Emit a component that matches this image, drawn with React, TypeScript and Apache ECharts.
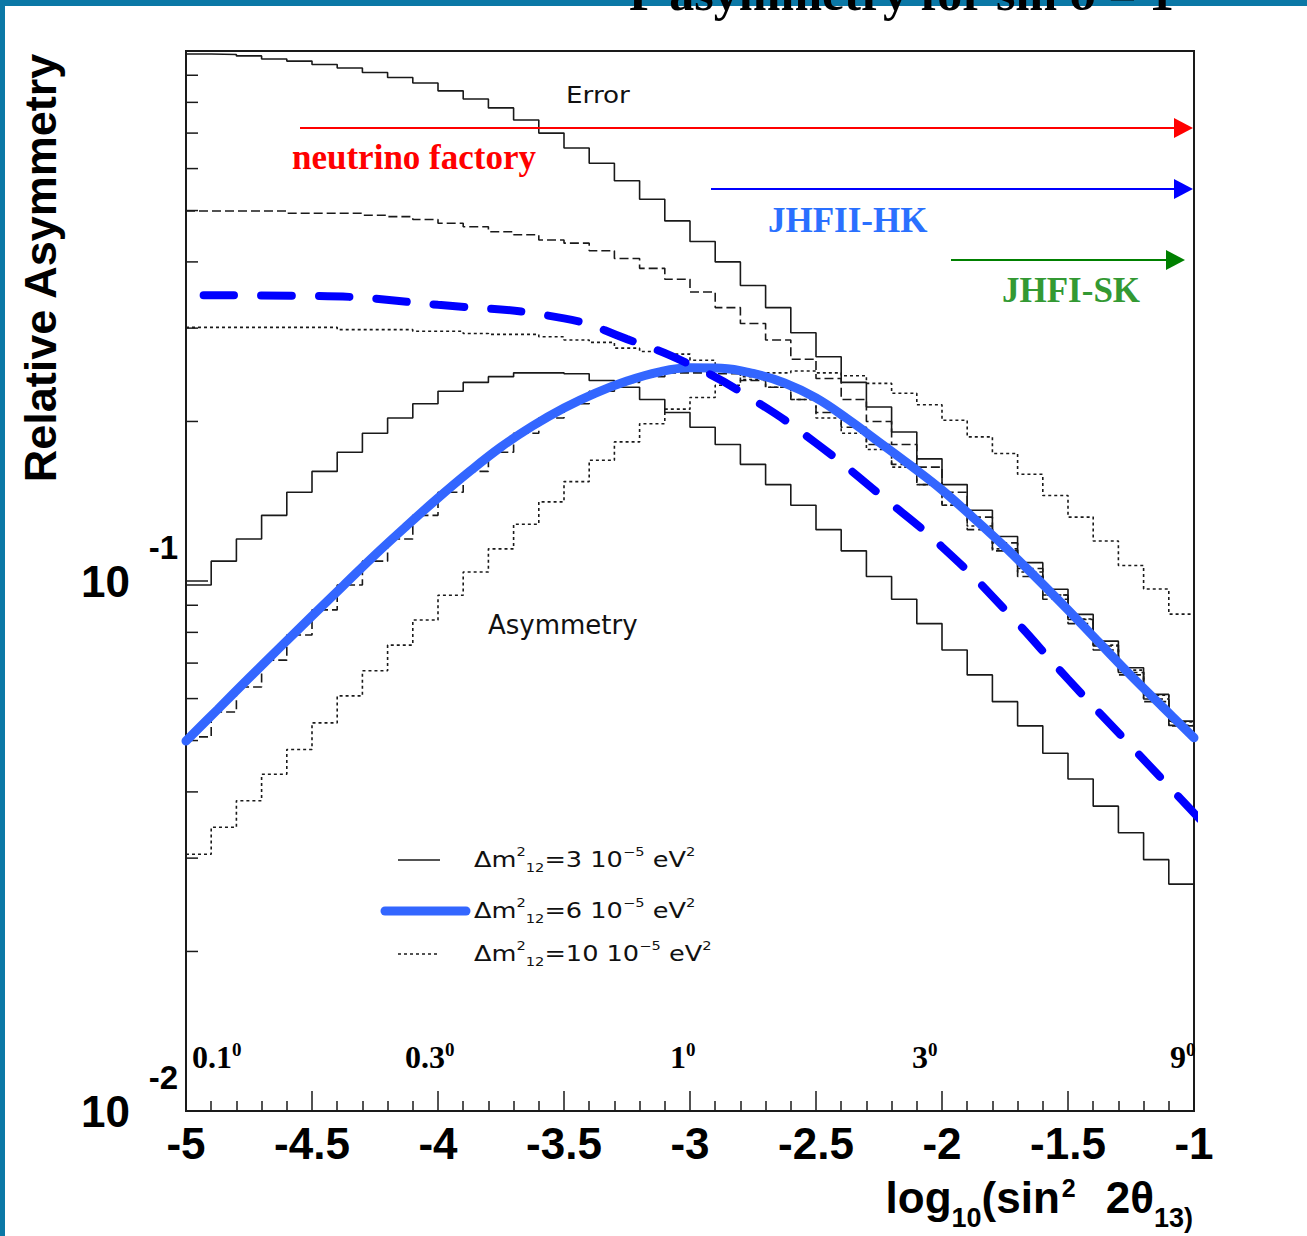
import React, { useEffect, useRef } from 'react';
import * as echarts from 'echarts';

// ---- bins of log10(sin^2 2theta13): lower edges, width 0.1 ----
const binLow = [-5.0, -4.9, -4.8, -4.7, -4.6, -4.5, -4.4, -4.3, -4.2, -4.1, -4.0, -3.9, -3.8, -3.7, -3.6, -3.5, -3.4, -3.3, -3.2, -3.1, -3.0, -2.9, -2.8, -2.7, -2.6, -2.5, -2.4, -2.3, -2.2, -2.1, -2.0, -1.9, -1.8, -1.7, -1.6, -1.5, -1.4, -1.3, -1.2, -1.1];
const binEnd = -1.0;

// ---- "Error" histograms ----
const errDm3 = [0.987, 0.985, 0.979, 0.966, 0.957, 0.943, 0.929, 0.911, 0.891, 0.870, 0.841, 0.812, 0.781, 0.741, 0.700, 0.656, 0.614, 0.569, 0.525, 0.478, 0.437, 0.400, 0.361, 0.328, 0.294, 0.265, 0.237, 0.213, 0.191, 0.170, 0.152, 0.136, 0.1213, 0.1083, 0.0965, 0.0865, 0.0770, 0.0686, 0.0611, 0.0544];
const errDm6 = [0.499, 0.499, 0.499, 0.499, 0.494, 0.494, 0.494, 0.490, 0.487, 0.481, 0.473, 0.466, 0.456, 0.450, 0.440, 0.434, 0.420, 0.406, 0.389, 0.371, 0.351, 0.328, 0.306, 0.285, 0.262, 0.241, 0.220, 0.200, 0.181, 0.164, 0.147, 0.132, 0.118, 0.1056, 0.0941, 0.0846, 0.0754, 0.0672, 0.0599, 0.0534];
const errDm10 = [0.301, 0.301, 0.301, 0.301, 0.301, 0.301, 0.298, 0.298, 0.298, 0.296, 0.296, 0.293, 0.292, 0.292, 0.289, 0.285, 0.282, 0.275, 0.271, 0.268, 0.261, 0.252, 0.243, 0.232, 0.220, 0.203, 0.190, 0.177, 0.164, 0.152, 0.139, 0.127, 0.115, 0.104, 0.0941, 0.0848, 0.0757, 0.0679, 0.0609, 0.0542];

// ---- "Asymmetry" histograms ----
const asymDm3 = [0.0983, 0.109, 0.120, 0.133, 0.147, 0.161, 0.175, 0.190, 0.203, 0.216, 0.228, 0.237, 0.243, 0.247, 0.247, 0.246, 0.239, 0.232, 0.220, 0.208, 0.195, 0.181, 0.166, 0.152, 0.139, 0.125, 0.114, 0.102, 0.0924, 0.0831, 0.0741, 0.0665, 0.0592, 0.0533, 0.0473, 0.0423, 0.0376, 0.0335, 0.0298, 0.0268];
const asymDm6 = [0.0508, 0.0566, 0.0631, 0.0709, 0.0791, 0.0882, 0.0983, 0.109, 0.120, 0.133, 0.147, 0.161, 0.175, 0.190, 0.203, 0.216, 0.228, 0.237, 0.243, 0.247, 0.247, 0.246, 0.239, 0.232, 0.220, 0.208, 0.195, 0.181, 0.166, 0.152, 0.139, 0.125, 0.114, 0.102, 0.0924, 0.0831, 0.0741, 0.0665, 0.0592, 0.0533];
const asymDm10 = [0.0305, 0.0343, 0.0385, 0.0432, 0.0481, 0.0540, 0.0607, 0.0677, 0.0757, 0.0844, 0.0940, 0.104, 0.115, 0.128, 0.141, 0.154, 0.169, 0.183, 0.198, 0.211, 0.222, 0.234, 0.240, 0.247, 0.249, 0.247, 0.244, 0.236, 0.226, 0.215, 0.201, 0.187, 0.174, 0.159, 0.145, 0.132, 0.119, 0.107, 0.0966, 0.0866];

// ---- thick blue smooth curve (Δm²=6) ----
const fitX = [-5.0, -4.875, -4.75, -4.625, -4.5, -4.375, -4.25, -4.125, -4.0, -3.875, -3.75, -3.625, -3.5, -3.375, -3.25, -3.125, -3.0, -2.875, -2.75, -2.625, -2.5, -2.375, -2.25, -2.125, -2.0, -1.875, -1.75, -1.625, -1.5, -1.375, -1.25, -1.125, -1.0];
const fitAsym6 = [0.0499, 0.0572, 0.0656, 0.0751, 0.0859, 0.0981, 0.1120, 0.1270, 0.1434, 0.1609, 0.1790, 0.1961, 0.2121, 0.2263, 0.2384, 0.2479, 0.2525, 0.2520, 0.2464, 0.2364, 0.2215, 0.2022, 0.1829, 0.1652, 0.1485, 0.1315, 0.1159, 0.1013, 0.0882, 0.0764, 0.0663, 0.0579, 0.0506];

// ---- thick blue dashed curve ----
const dashX = [-4.93, -4.5, -4.0, -3.5, -3.25, -3.0, -2.75, -2.5, -2.25, -2.0, -1.75, -1.5, -1.25, -1.0, -0.94];
const dashVals = [0.346, 0.345, 0.332, 0.313, 0.286, 0.256, 0.220, 0.182, 0.146, 0.116, 0.0883, 0.0653, 0.0488, 0.0365, 0.0340];

// ---- log-axis minor ticks ----
const yMinorTicks = [0.02, 0.03, 0.04, 0.05, 0.06, 0.07, 0.08, 0.09, 0.2, 0.3, 0.4, 0.5, 0.6, 0.7, 0.8, 0.9];

// ---- texts ----
const titleText = 'P asymmetry for sin δ = 1';
const yTitle = 'Relative Asymmetry';
const angleLabels = ['0.1', '0.3', '1', '3', '9'];
const legendMasses = ['3', '6', '10'];

function steps(vals: number[]) {
  const d: number[][] = binLow.map((x, i) => [x, vals[i]]);
  d.push([binEnd, vals[vals.length - 1]]);
  return d;
}

const INK = '#1a1a1a';
const SANS = '"Liberation Sans", Arial, sans-serif';
const THIN = '"DejaVu Sans", sans-serif';
const SERIF = '"Liberation Serif", "Times New Roman", serif';

function histo(vals: number[], type: any) {
  return {
    type: 'line',
    step: 'end',
    data: steps(vals),
    symbol: 'none',
    silent: true,
    z: 2,
    lineStyle: { color: INK, width: 1.6, type },
  };
}

function arrow(x1: number, x2: number, y: number, color: string) {
  return [
    { type: 'line', z: 100, shape: { x1, y1: y, x2: x2 - 14, y2: y }, style: { stroke: color, lineWidth: 2 } },
    { type: 'polygon', z: 100, shape: { points: [[x2, y], [x2 - 19, y - 10], [x2 - 19, y + 10]] }, style: { fill: color } },
  ];
}

const legendRich = {
  n: { fontSize: 21, fontFamily: THIN, lineHeight: 28, fill: '#111' },
  sp: { fontSize: 12, fontFamily: THIN, lineHeight: 12, verticalAlign: 'top', fill: '#111' },
  sb: { fontSize: 12, fontFamily: THIN, lineHeight: 12, verticalAlign: 'bottom', fill: '#111' },
};

export default function App() {
  const ref = useRef<HTMLDivElement>(null);
  useEffect(() => {
    document.body.style.margin = '0';
    if (!ref.current) return;
    const chart = echarts.init(ref.current, undefined, { renderer: 'svg' });

    const angleX = [192, 405, 670, 912, 1170];
    const legendY = [860, 911, 954];

    const graphic: any[] = [
      { type: 'rect', z: 90, shape: { x: 0, y: 0, width: 1307, height: 6 }, style: { fill: '#0b78a6' } },
      { type: 'rect', z: 90, shape: { x: 0, y: 0, width: 5, height: 1236 }, style: { fill: '#0b78a6' } },
      { type: 'text', z: 100, x: 629, y: 18, style: { text: titleText, fontSize: 50, fontWeight: 'bold', fontFamily: SERIF, fill: '#000', align: 'left', verticalAlign: 'bottom' } },
      ...arrow(300, 1193, 128, '#ff0000'),
      ...arrow(711, 1193, 189, '#0000ff'),
      ...arrow(951, 1185, 260, '#008000'),
      { type: 'text', z: 100, x: 292, y: 157, style: { text: 'neutrino factory', fontSize: 35, fontWeight: 'bold', fontFamily: SERIF, fill: '#ff0000', verticalAlign: 'middle' } },
      { type: 'text', z: 100, x: 768, y: 220, style: { text: 'JHFII-HK', fontSize: 35, fontWeight: 'bold', fontFamily: SERIF, fill: '#2a70ff', verticalAlign: 'middle' } },
      { type: 'text', z: 100, x: 1002, y: 290, style: { text: 'JHFI-SK', fontSize: 35, fontWeight: 'bold', fontFamily: SERIF, fill: '#339933', verticalAlign: 'middle' } },
      { type: 'text', z: 100, x: 566, y: 95, scaleX: 1.14, style: { text: 'Error', fontSize: 23, fontFamily: THIN, fill: '#111', verticalAlign: 'middle' } },
      { type: 'text', z: 100, x: 488, y: 625, style: { text: 'Asymmetry', fontSize: 26, fontFamily: THIN, fill: '#111', verticalAlign: 'middle' } },
      // legend
      { type: 'line', z: 100, shape: { x1: 398, y1: legendY[0], x2: 440, y2: legendY[0] }, style: { stroke: INK, lineWidth: 1.6 } },
      { type: 'line', z: 100, shape: { x1: 385, y1: legendY[1], x2: 466, y2: legendY[1] }, style: { stroke: '#3366ff', lineWidth: 9, lineCap: 'round' } },
      { type: 'line', z: 100, shape: { x1: 398, y1: legendY[2], x2: 440, y2: legendY[2] }, style: { stroke: INK, lineWidth: 1.6, lineDash: [3, 3] } },
      ...legendMasses.map((m, i) => ({
        type: 'text', z: 100, x: 474, y: legendY[i], scaleX: 1.22,
        style: { text: `{n|Δm}{sp|2}{sb|12}{n|=${m} 10}{sp|−5}{n| eV}{sp|2}`, rich: legendRich, verticalAlign: 'middle' },
      })),
      // angle labels
      ...angleLabels.map((a, i) => ({
        type: 'text', z: 100, x: angleX[i], y: 1057,
        style: {
          text: `{a|${a}}{s|0}`, verticalAlign: 'middle',
          rich: {
            a: { fontSize: 32, fontWeight: 'bold', fontFamily: SERIF, lineHeight: 34, fill: '#000' },
            s: { fontSize: 19, fontWeight: 'bold', fontFamily: SERIF, lineHeight: 19, verticalAlign: 'top', fill: '#000' },
          },
        },
      })),
      // axis titles
      { type: 'text', z: 100, x: 40, y: 268, rotation: Math.PI / 2, style: { text: yTitle, fontSize: 45, fontWeight: 'bold', fontFamily: SANS, fill: '#000', align: 'center', verticalAlign: 'middle' } },
      {
        type: 'text', z: 100, x: 1193, y: 1203.5,
        style: {
          text: '{b|log}{sb|10}{b|(sin}{sp|2}{g|}{b|2θ}{sb|13)}', align: 'right', verticalAlign: 'middle',
          rich: {
            b: { fontSize: 44, fontWeight: 'bold', fontFamily: SANS, lineHeight: 56, verticalAlign: 'top', fill: '#000' },
            sb: { fontSize: 27, fontWeight: 'bold', fontFamily: SANS, lineHeight: 10, verticalAlign: 'bottom', fill: '#000' },
            sp: { fontSize: 25, fontWeight: 'bold', fontFamily: SANS, lineHeight: 10, verticalAlign: 'top', padding: [0, 0, 0, 2], fill: '#000' },
            g: { width: 30, lineHeight: 10 },
          },
        },
      },
    ];

    const expOf = (v: number) => Math.round(Math.log10(v));

    chart.setOption({
      animation: false,
      backgroundColor: '#ffffff',
      grid: { left: 186, top: 51, width: 1008, height: 1060, show: true, borderColor: INK, borderWidth: 2, backgroundColor: 'transparent' },
      xAxis: {
        type: 'value', min: -5, max: -1, interval: 0.5,
        axisLine: { show: true, lineStyle: { color: INK, width: 2 } },
        axisTick: { show: true, inside: true, length: 20, lineStyle: { color: INK, width: 1.5 } },
        minorTick: { show: true, splitNumber: 5, length: 10, lineStyle: { color: INK, width: 1.5 } },
        splitLine: { show: false },
        axisLabel: { fontSize: 44, fontWeight: 'bold', fontFamily: SANS, color: '#000', margin: 10, lineHeight: 44 },
      },
      yAxis: [
        {
          type: 'log', logBase: 10, min: 0.01, max: 1, position: 'left',
          axisLine: { show: true, lineStyle: { color: INK, width: 2 } },
          axisTick: { show: true, inside: true, length: 22, lineStyle: { color: INK, width: 1.5 } },
          splitLine: { show: false },
          axisLabel: {
            formatter: (v: number) => (expOf(v) < 0 ? '10' : ''),
            fontSize: 44, fontWeight: 'bold', fontFamily: SANS, color: '#000', margin: 56,
            verticalAlign: 'middle', padding: [8, 0, 0, 0],
          },
        },
        {
          type: 'log', logBase: 10, min: 0.01, max: 1, position: 'left',
          axisLine: { show: false }, axisTick: { show: false }, splitLine: { show: false },
          axisLabel: {
            formatter: (v: number) => (expOf(v) < 0 ? String(expOf(v)) : ''),
            fontSize: 33, fontWeight: 'bold', fontFamily: SANS, color: '#000', margin: 8,
            verticalAlign: 'bottom', lineHeight: 33, padding: [0, 0, 17, 0],
          },
        },
      ],
      series: [
        histo(errDm3, 'solid'),
        histo(errDm6, [9, 4]),
        histo(errDm10, [3, 3]),
        histo(asymDm3, 'solid'),
        histo(asymDm6, [9, 4]),
        histo(asymDm10, [3, 3]),
        {
          type: 'custom', silent: true, z: 3,
          data: yMinorTicks.map((v) => [-5, v]),
          encode: { x: 0, y: 1 },
          renderItem: (params: any, api: any) => {
            const p = api.coord([api.value(0), api.value(1)]);
            return { type: 'line', shape: { x1: p[0], y1: p[1], x2: p[0] + 12, y2: p[1] }, style: { stroke: INK, lineWidth: 1.5 } };
          },
        },
        {
          type: 'line', smooth: 0.4, symbol: 'none', silent: true, z: 5,
          data: fitX.map((x, i) => [x, fitAsym6[i]]),
          lineStyle: { color: '#3366ff', width: 9, cap: 'round' },
        },
        {
          type: 'line', smooth: true, symbol: 'none', silent: true, z: 6, clip: false,
          data: dashX.map((x, i) => [x, dashVals[i]]),
          lineStyle: { color: '#0000ff', width: 8, type: [30.6, 27], cap: 'round' },
        },
      ],
      graphic,
    });
    return () => chart.dispose();
  }, []);
  return <div ref={ref} style={{ width: 1307, height: 1236 }} />;
}
